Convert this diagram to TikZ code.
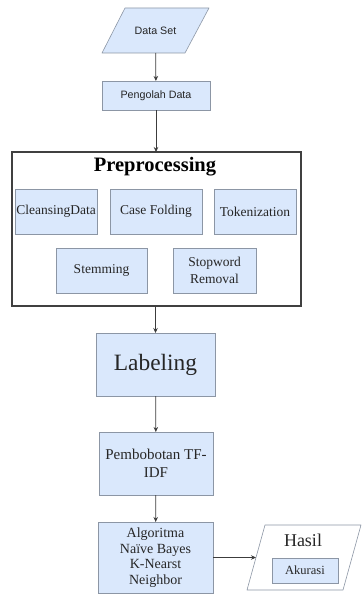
\documentclass[tikz,border=0pt]{standalone}
\usepackage{fontspec}
\setmainfont{Liberation Serif}
\newfontfamily\arialfont{Liberation Sans}
\usetikzlibrary{arrows.meta}
\definecolor{boxfill}{RGB}{218,232,252}
\definecolor{boxline}{RGB}{140,150,165}
\definecolor{arrowgray}{RGB}{60,60,60}

\begin{document}
\begin{tikzpicture}[x=1pt, y=-1pt,
    stepbox/.style={draw=boxline, fill=boxfill, line width=0.6pt, inner sep=1pt, outer sep=0pt, align=center, text=black!85},
    iobox/.style={draw=boxline, line width=0.6pt, line join=round},
    iotext/.style={inner sep=0pt, outer sep=0pt, text=black!85},
    flow/.style={draw=arrowgray, line width=0.8pt, -{Stealth[length=5pt,width=4.5pt]}}]
    \useasboundingbox (0,0) rectangle (362,594);

    % input and first step
    \draw[iobox, fill=boxfill] (102,53) -- (125,8) -- (209,8) -- (185,53) -- cycle;
    \node[iotext, minimum width=84pt, minimum height=45pt, font=\arialfont\fontsize{10.7}{12}\selectfont] (dataset) at (155.5,30.5) {Data Set};
    \node[stepbox, minimum width=108pt, minimum height=29pt, font=\arialfont\fontsize{10.7}{12}\selectfont] (pengolah) at (156,95.5) {Pengolah Data};

    % preprocessing block
    \node[draw=black!75, line width=1.1pt, minimum width=289pt, minimum height=154pt, outer sep=0pt] (preproc) at (156.5,229) {};
    \node[font=\fontsize{20.5}{24}\selectfont\bfseries] (preproctitle) at (155,167) {Preprocessing};
    \begin{scope}[every node/.append style={font=\fontsize{13.5}{17.5}\selectfont}]
    \node[stepbox, minimum width=82pt, minimum height=45pt] (cleansing) at (56,211.5) {CleansingData};
    \node[stepbox, minimum width=92pt, minimum height=45pt] (casefold) at (156,211.5) {Case Folding};
    \node[stepbox, minimum width=82pt, minimum height=45pt] (token) at (255,211.5) {Tokenization};
    \node[stepbox, minimum width=91pt, minimum height=45pt] (stemming) at (101.5,270.5) {Stemming};
    \node[stepbox, minimum width=83pt, minimum height=45pt] (stopword) at (214.5,270.5) {Stopword\\Removal};
    \end{scope}

    % later steps
    \node[stepbox, minimum width=119pt, minimum height=63pt, font=\fontsize{23.4}{28}\selectfont] (labeling) at (155.5,364.5) {Labeling};
    \node[stepbox, minimum width=114pt, minimum height=63pt, font=\fontsize{15}{18}\selectfont] (pembobotan) at (156,463.5) {Pembobotan TF-\\IDF};
    \node[stepbox, minimum width=115pt, minimum height=71pt, font=\fontsize{14}{15.5}\selectfont] (algoritma) at (155.5,557.5) {Algoritma\\Naïve Bayes\\K-Nearst\\Neighbor};

    % output
    \draw[iobox, fill=white] (247,590) -- (265,525) -- (361,525) -- (343,590) -- cycle;
    \node[iotext, minimum width=96pt, minimum height=65pt] (hasil) at (304,557.5) {};
    \node[text=black!85, font=\fontsize{18}{22}\selectfont] (hasiltitle) at (303,540) {Hasil};
    \node[stepbox, minimum width=66pt, minimum height=25pt, font=\fontsize{12.5}{15}\selectfont] (akurasi) at (305,570.5) {Akurasi};

    \draw[flow] (dataset) -- (pengolah);
    \draw[flow] (pengolah) -- (preproc.north -| pengolah);
    \draw[flow] (preproc.south -| labeling) -- (labeling);
    \draw[flow] (labeling) -- (pembobotan);
    \draw[flow] (pembobotan) -- (algoritma);
    \draw[flow] (algoritma) -- (hasil);
\end{tikzpicture}
\end{document}
